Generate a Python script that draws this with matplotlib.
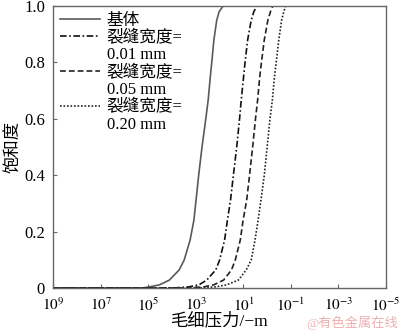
import matplotlib
matplotlib.use('agg')
import matplotlib.pyplot as plt
from matplotlib.lines import Line2D
import numpy as np

plt.rcParams['font.family'] = ['Liberation Serif', 'Noto Sans CJK SC']
plt.rcParams['mathtext.fontset'] = 'stix'

# saturation levels and the log10 capillary pressure (m)
sat_levels = [0, 0.004, 0.011, 0.028, 0.064, 0.099, 0.170, 0.241, 0.312, 0.4,
              0.5, 0.6, 0.667, 0.75, 0.8, 0.88, 0.95, 0.98, 1.0]
logh_matrix = [5.23, 4.94, 4.53, 4.11, 3.70, 3.49, 3.24, 3.08, 2.99, 2.88,
               2.74, 2.58, 2.48, 2.39, 2.33, 2.24, 2.12, 2.02, 1.85]
logh_w001 = [3.90, 3.28, 2.87, 2.54, 2.16, 2.00, 1.79, 1.67, 1.54, 1.42,
             1.28, 1.16, 1.09, 0.99, 0.93, 0.82, 0.67, 0.56, 0.43]
logh_w005 = [3.30, 2.66, 2.25, 1.83, 1.50, 1.34, 1.13, 1.01, 0.86, 0.74,
             0.61, 0.49, 0.40, 0.31, 0.24, 0.12, -0.03, -0.14, -0.24]
logh_w020 = [2.90, 2.16, 1.71, 1.21, 0.88, 0.67, 0.51, 0.38, 0.26, 0.12,
             0.00, -0.12, -0.22, -0.31, -0.38, -0.49, -0.61, -0.70, -0.78]
# flat parts out to the axis ends
x_max_exp, x_min_exp = 9, -5

labels = ['基体', '裂缝宽度=', '裂缝宽度=', '裂缝宽度=']
width_labels = [None, '0.01 mm', '0.05 mm', '0.20 mm']

x_ticks = [9, 7, 5, 3, 1, -1, -3, -5]
y_ticks = [0, 0.2, 0.4, 0.6, 0.8, 1.0]
y_labels = ['0', '0.2', '0.4', '0.6', '0.8', '1.0']


def full_curve(logh):
    xs = [x_max_exp] + logh + [x_min_exp]
    ys = [0] + sat_levels + [1.0]
    return 10.0 ** np.array(xs), ys


fig = plt.figure(figsize=(4, 3.36), dpi=100)
ax = fig.add_axes([0.133, 0.143, 0.832, 0.839])

styles = [dict(color='#5a5a5a', linestyle='-'),
          dict(color='#111111', linestyle=(0, (4, 1.5, 1, 1.5))),
          dict(color='#222222', linestyle=(0, (3.5, 1.8))),
          dict(color='#222222', linestyle=(0, (1, 1.1)))]
handles = []
for logh, st, lab in zip([logh_matrix, logh_w001, logh_w005, logh_w020], styles, labels):
    x, y = full_curve(logh)
    h, = ax.plot(x, y, linewidth=1.2, label=lab, **st)
    handles.append(h)

ax.set_xscale('log')
ax.set_xlim(1e9, 1e-5)
ax.set_ylim(0, 1)
ax.set_xticks([10.0 ** e for e in x_ticks])
ax.set_xticklabels(['$10^{%d}$' % e for e in x_ticks])
ax.xaxis.set_minor_locator(matplotlib.ticker.NullLocator())
ax.set_yticks(y_ticks)
ax.set_yticklabels(y_labels)
ax.tick_params(direction='in', length=3, width=0.8, color='#666666', labelsize=12)
ax.tick_params(axis='x', pad=6, labelsize=11)
ax.tick_params(axis='y', pad=6)

for s in ax.spines.values():
    s.set_color('#666666')
    s.set_linewidth(1.0)

ax.set_xlabel('毛细压力/−m', fontsize=12.5, labelpad=-1)
ax.set_ylabel('饱和度', fontsize=12.5, labelpad=1)

# legend: the width value goes on its own line below each label
blank = Line2D([], [], linestyle='none')
leg_handles, leg_labels = [], []
for h, lab, wl in zip(handles, labels, width_labels):
    leg_handles.append(h)
    leg_labels.append(lab)
    if wl:
        leg_handles.append(blank)
        leg_labels.append(wl)
ax.legend(leg_handles, leg_labels, loc='upper left', frameon=False, fontsize=12,
          handlelength=2.4, labelspacing=0.08, handletextpad=0.4,
          borderaxespad=0.2, borderpad=0.2)

fig.text(0.995, 0.04, '@有色金属在线', color='#eeb0b0', fontsize=9.5, ha='right', va='center')

fig.savefig('out.png', dpi=100)
